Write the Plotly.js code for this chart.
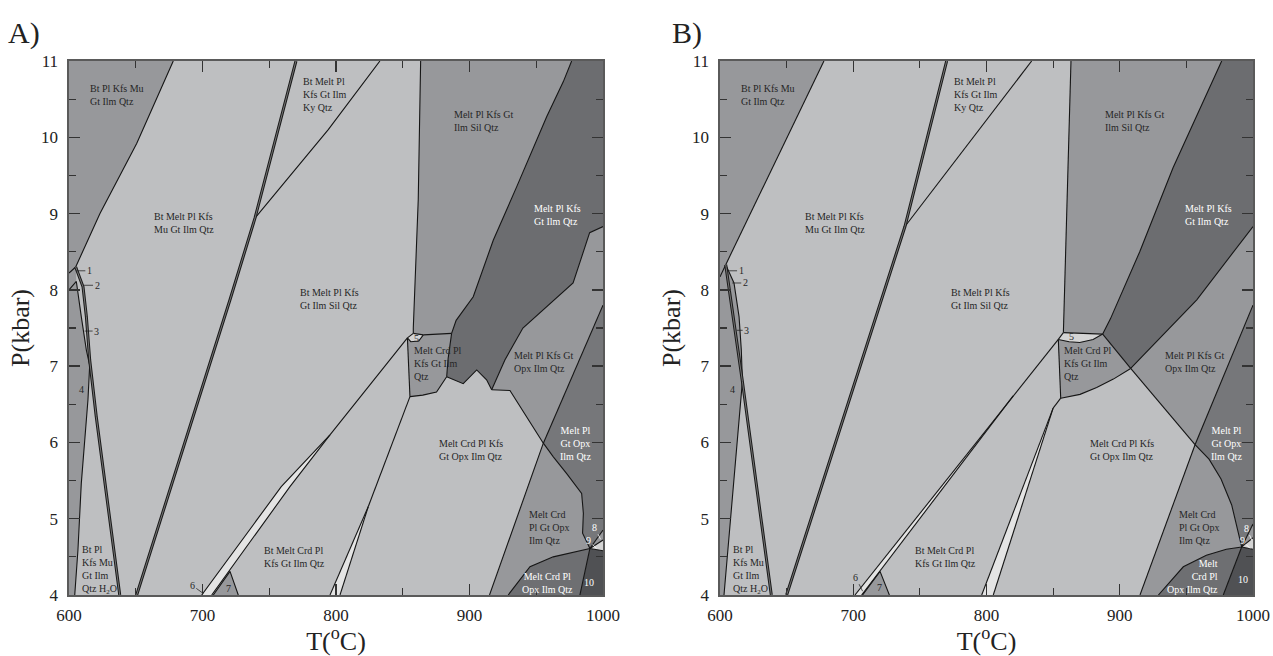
<!DOCTYPE html>
<html><head><meta charset="utf-8">
<script src="https://cdn.plot.ly/plotly-3.0.1.min.js"></script>
<style>html,body{margin:0;padding:0;background:#fff}#chart{width:1273px;height:656px}</style>
</head><body><div id="chart"></div>
<script>
// ---------- Panel A boundaries: [T (°C), P (kbar)] ----------
const aMuOut   = [[678.1,11],[650.7,9.92],[623.2,9.0],[605,8.3]];
const aMuEdge  = [[605,8.3],[600,8.22]];
const aThick1  = [[605,8.3],[610.5,8.04],[613,7.65],[615.5,7.08],[620.4,6.34],[638,4]];
const aR4Edge  = [[604.3,4],[606.7,4.59],[609.2,5.46],[614.2,6.56],[615.5,7.01],[613,7.21],[609.2,7.65],[605.5,8.11],[600,8.0]];
const aThick2  = [[650.7,4],[720.6,7.87],[739.3,8.94],[770,11]];
const aKy      = [[739.3,8.94],[794.2,10.1],[832.9,11]];
const aVert    = [[857.9,7.43],[857.9,7.5],[861.6,9.18],[863.4,11]];
const a5Top    = [[857.9,7.43],[865.4,7.41]];
const a5Bot    = [[853.5,7.37],[856,7.32],[862,7.33],[865.4,7.41]];
const a5Left   = [[853.5,7.37],[857.9,7.43]];
const aCrdTop  = [[865.4,7.41],[886.6,7.43]];
const aDarkLeft= [[886.6,7.43],[890,7.6],[902.8,7.91],[917.8,8.65],[935.3,9.35],[957.8,10.27],[970.3,10.73],[976.5,11]];
const aCrdRight= [[886.6,7.43],[884,7.1],[882.9,6.86]];
const aSpikes  = [[882.9,6.86],[895.3,6.77],[905.4,6.95],[912.8,6.82],[916.6,6.69]];
const aC1      = [[916.6,6.69],[926.5,7.08],[940,7.5],[964,7.87],[977.6,8.09],[990,8.75],[1000,8.83]];
const aL1b     = [[916.6,6.69],[930.3,6.68],[955.3,5.99]];
const aL1c     = [[955.3,5.99],[962.8,5.81],[972.8,5.59],[984,5.33],[985.3,5.07],[984.7,4.81],[990.2,4.61]];
const aL2a     = [[915,4],[955.3,5.99]];
const aL2b     = [[955.3,5.99],[1000,7.8]];
const aCrdBot  = [[855.4,6.6],[865,6.62],[875.3,6.66],[882.9,6.86]];
const aCrdLeft = [[853.5,7.37],[855.4,6.6]];
const aW1L     = [[699.4,4],[759,5.42],[795.5,6.1],[853.5,7.37]];
const aW1R     = [[706.9,4],[765.5,5.42],[795.5,6.1]];
const aW2L     = [[795.5,4],[824.2,5.16]];
const aW2R     = [[803,4],[824.2,5.16]];
const aW2Top   = [[824.2,5.16],[855.4,6.6]];
const aC2      = [[929,4],[945.3,4.37],[962.7,4.5],[980.3,4.57],[990.2,4.61]];
const aL4      = [[982.7,4],[990.2,4.61]];
const aTip8    = [[990.2,4.61],[1000,4.85]];
const aTip9    = [[990.2,4.61],[1000,4.72]];
const aTip10   = [[990.2,4.61],[1000,4.58]];
const aR7      = [[708.1,4],[720.6,4.31],[726.8,4]];

// ---------- Panel B boundaries ----------
const bMuOut   = [[678,11],[604.3,8.33]];
const bMuEdge  = [[604.3,8.33],[600,8.17]];
const bThick1  = [[604.3,8.33],[616.8,6.8],[638.5,4]];
const bR4Edge  = [[603,4],[616.8,6.8],[616,7.21],[614.3,7.65],[610.5,8.09],[604.3,8.33]];
const bThick2  = [[650,4],[738.8,8.83],[770.1,11]];
const bKy      = [[738.8,8.83],[833.9,11]];
const bVert    = [[857.7,7.44],[861.2,9.6],[863.4,11]];
const b5Top    = [[857.7,7.44],[887.2,7.42]];
const b5Bot    = [[853.9,7.35],[862,7.32],[870,7.31],[880,7.35],[887.2,7.42]];
const b5Left   = [[853.9,7.35],[857.7,7.44]];
const bDarkLeft= [[887.2,7.42],[893,7.62],[915,8.5],[940,9.6],[976.5,11]];
const bC1      = [[908.2,6.97],[937.7,7.5],[957.8,7.87],[1000,8.83]];
const bL1a     = [[887.2,7.42],[908.2,6.97]];
const bL1b     = [[908.2,6.97],[956.5,5.97]];
const bL1c     = [[956.5,5.97],[967,5.78],[976,5.52],[984,5.18],[991.5,4.63]];
const bL2a     = [[915.2,4],[956.5,5.97]];
const bL2b     = [[956.5,5.97],[1000,7.8]];
const bCrdBot  = [[855.7,6.58],[870.2,6.63],[882.7,6.72],[895.2,6.83],[908.2,6.97]];
const bCrdLeft = [[853.9,7.35],[855.7,6.58]];
const bW1L     = [[701.3,4],[820,6.61],[853.9,7.35]];
const bW1R     = [[706.3,4],[820,6.61]];
const bW2L     = [[796.4,4],[850,6.45]];
const bW2R     = [[805.1,4],[850,6.45]];
const bW2Top   = [[850,6.45],[855.7,6.58]];
const bC2      = [[929,4],[947.7,4.37],[965,4.52],[980,4.6],[991.5,4.63]];
const bL4      = [[977.7,4],[991.5,4.63]];
const bTip8    = [[991.5,4.63],[1000,4.93]];
const bTip9    = [[991.5,4.63],[1000,4.75]];
const bTip10   = [[991.5,4.63],[1000,4.6]];
const bR7      = [[707,4],[720.1,4.31],[727.1,4]];

// ---------- field labels: [text, T, P, anchor, colour] ----------
const aLabels = [
 ['Bt Pl Kfs Mu<br>Gt Ilm Qtz',614.2,10.56,'left','d'],
 ['Bt Melt Pl Kfs<br>Mu Gt Ilm Qtz',661.9,8.88,'left','d'],
 ['Bt Melt Pl<br>Kfs Gt Ilm<br>Ky Qtz',773.8,10.56,'left','d'],
 ['Melt Pl Kfs Gt<br>Ilm Sil Qtz',887.1,10.21,'left','d'],
 ['Melt Pl Kfs<br>Gt Ilm Qtz',947.1,8.98,'left','w'],
 ['Bt Melt Pl Kfs<br>Gt Ilm Sil Qtz',771.3,7.88,'left','d'],
 ['Melt Crd Pl<br>Kfs Gt Ilm<br>Qtz',856.7,7.03,'left','d'],
 ['Melt Pl Kfs Gt<br>Opx Ilm Qtz',931.6,7.05,'left','d'],
 ['Melt Crd Pl Kfs<br>Gt Opx Ilm Qtz',875.4,5.9,'left','d'],
 ['Melt Pl<br>Gt Opx<br>Ilm Qtz',979.7,5.98,'center','w'],
 ['Melt Crd<br>Pl Gt Opx<br>Ilm Qtz',942.8,4.89,'left','d'],
 ['Melt Crd Pl<br>Opx Ilm Qtz',958.4,4.16,'center','w'],
 ['10',989.7,4.16,'center','w'],
 ['Bt Melt Crd Pl<br>Kfs Gt Ilm Qtz',744.3,4.5,'left','d'],
 ['Bt Pl<br>Kfs Mu<br>Gt Ilm<br>Qtz H<sub>2</sub>O',608.2,4.33,'left','d'],
 ['4',609.2,6.69,'center','d'],
 ['5',860.4,7.36,'center','d'],
 ['7',719.3,4.09,'center','d']
];
const bLabels = [
 ['Bt Pl Kfs Mu<br>Gt Ilm Qtz',614.5,10.55,'left','d'],
 ['Bt Melt Pl Kfs<br>Mu Gt Ilm Qtz',662.1,8.88,'left','d'],
 ['Bt Melt Pl<br>Kfs Gt Ilm<br>Ky Qtz',773.9,10.56,'left','d'],
 ['Melt Pl Kfs Gt<br>Ilm Sil Qtz',887.7,10.21,'left','d'],
 ['Melt Pl Kfs<br>Gt Ilm Qtz',947.7,8.98,'left','w'],
 ['Bt Melt Pl Kfs<br>Gt Ilm Sil Qtz',772.1,7.88,'left','d'],
 ['Melt Crd Pl<br>Kfs Gt Ilm<br>Qtz',856.4,7.03,'left','d'],
 ['Melt Pl Kfs Gt<br>Opx Ilm Qtz',932.2,7.05,'left','d'],
 ['Melt Crd Pl Kfs<br>Gt Opx Ilm Qtz',876.4,5.9,'left','d'],
 ['Melt Pl<br>Gt Opx<br>Ilm Qtz',980.3,5.98,'center','w'],
 ['Melt Crd<br>Pl Gt Opx<br>Ilm Qtz',943.2,4.89,'left','d'],
 ['Melt<br>Crd Pl<br>Opx Ilm Qtz',975.3,4.24,'right','w'],
 ['10',992.7,4.2,'center','w'],
 ['Bt Melt Crd Pl<br>Kfs Gt Ilm Qtz',744.6,4.5,'left','d'],
 ['Bt Pl<br>Kfs Mu<br>Gt Ilm<br>Qtz H<sub>2</sub>O',608,4.33,'left','d'],
 ['4',609.2,6.69,'center','d'],
 ['5',863.9,7.39,'center','d'],
 ['7',719.6,4.1,'center','d']
];
// numbered small fields with leader lines: [text, T, P, dx px, dy px, colour]
const aLeaders = [['1',605.5,8.25,13,0,'d'],['2',610.5,8.06,14,0,'d'],['3',611.7,7.46,12,0,'d'],['6',700.6,4.02,-11,-8,'d'],['8',998.2,4.73,-6,-12,'w'],['9',995.2,4.61,-8,-8,'w']];
const bLeaders = [['1',606.8,8.25,12,0,'d'],['2',609.2,8.09,13,0,'d'],['3',612.5,7.47,10,0,'d'],['6',707,4.05,-7,-14,'d'],['8',999,4.72,-5,-12,'w'],['9',997.8,4.61,-8,-8,'w']];

// ---------- styling ----------
const MID='#97989b', DARK='#6c6d70', DARK2='#76777a', DARK3='#6e6f72', DARKEST='#505154', WHITE='#e4e4e4', PALE='#d4d4d4', LIGHT='#bebfc1';
const FONT='Liberation Serif';
const rev = a => a.slice().reverse();

function fillTrace(pts, color, ax){
  return {type:'scatter', mode:'lines', x:pts.map(p=>p[0]), y:pts.map(p=>p[1]), fill:'toself', fillcolor:color,
    line:{width:0,color:color}, hoverinfo:'skip', showlegend:false, xaxis:ax[0], yaxis:ax[1]};
}
function lineTrace(pts, w, ax, col){
  return {type:'scatter', mode:'lines', x:pts.map(p=>p[0]), y:pts.map(p=>p[1]),
    line:{width:w,color:col||'#151515'}, hoverinfo:'skip', showlegend:false, xaxis:ax[0], yaxis:ax[1]};
}

const traces = [];
function panel(ax, D){
  const n = D.r4Edge.length;
  const fills = [
    [[[600,11], ...D.muOut, D.muEdge[1]], MID],
    [[[600,4], ...D.r4Edge, D.muEdge[1]], MID],
    [[D.r4Edge[n-2], D.r4Edge[n-1], D.muEdge[1], D.muEdge[0]], MID],
    [[...rev(D.vert), ...D.t5, ...D.crdTop, ...D.darkLeft], MID],
    [[...D.darkLeft, [1000,11], ...rev(D.c1), ...rev(D.spikes), ...rev(D.crdRight)], DARK],
    [[...D.l5, ...D.t5, ...rev(D.b5)], PALE],
    [[...D.b5, ...D.crdTop, ...D.crdRight, ...rev(D.crdBot)], MID],
    [[...D.c1, ...rev(D.l2b), ...rev(D.l1b)], MID],
    [[...D.l2b, ...rev(D.tip8), ...rev(D.l1c)], DARK2],
    [[...D.l2a, ...D.l1c, ...rev(D.c2)], MID],
    [[...D.c2, ...rev(D.l4)], DARK3],
    [[...D.l4, ...D.tip10, [1000,4]], DARKEST],
    [[...D.tip8, ...rev(D.tip9)], MID],
    [[...D.tip9, ...rev(D.tip10)], PALE],
    [[...D.w1l.slice(0, D.w1l.length-1), ...rev(D.w1r)], WHITE],
    [[...D.w2l, ...rev(D.w2r)], WHITE],
    [D.r7, MID]
  ];
  fills.forEach(f => traces.push(fillTrace(f[0], f[1], ax)));
  D.thin.forEach(l => traces.push(lineTrace(l, 1.1, ax)));
  D.thick.forEach(l => { traces.push(lineTrace(l, 3, ax, '#1a1a1a')); traces.push(lineTrace(l, 0.8, ax, '#8a8a8a')); });
}

panel(['x','y'], {muOut:aMuOut, muEdge:aMuEdge, r4Edge:aR4Edge, vert:aVert, t5:a5Top, b5:a5Bot, l5:a5Left,
  crdTop:aCrdTop, darkLeft:aDarkLeft, crdRight:aCrdRight, spikes:aSpikes, c1:aC1, l1b:aL1b, l1c:aL1c,
  l2a:aL2a, l2b:aL2b, crdBot:aCrdBot, c2:aC2, l4:aL4, tip8:aTip8, tip9:aTip9, tip10:aTip10,
  w1l:aW1L, w1r:aW1R, w2l:aW2L, w2r:aW2R, r7:aR7,
  thin:[aMuOut,aMuEdge,aR4Edge,aKy,aVert,a5Top,a5Bot,a5Left,aCrdTop,aDarkLeft,aCrdRight,aSpikes,aC1,aL1b,aL1c,aL2a,aL2b,aCrdBot,aCrdLeft,aW1L,aW1R,aW2L,aW2R,aW2Top,aC2,aL4,aTip8,aTip9,aTip10,aR7],
  thick:[aThick1,aThick2]});

panel(['x2','y2'], {muOut:bMuOut, muEdge:bMuEdge, r4Edge:bR4Edge, vert:bVert, t5:b5Top, b5:b5Bot, l5:b5Left,
  crdTop:[b5Top[1]], darkLeft:bDarkLeft, crdRight:[bL1a[0]], spikes:bL1a, c1:bC1, l1b:bL1b, l1c:bL1c,
  l2a:bL2a, l2b:bL2b, crdBot:bCrdBot, c2:bC2, l4:bL4, tip8:bTip8, tip9:bTip9, tip10:bTip10,
  w1l:bW1L, w1r:bW1R, w2l:bW2L, w2r:bW2R, r7:bR7,
  thin:[bMuOut,bMuEdge,bR4Edge,bKy,bVert,b5Top,b5Bot,b5Left,bDarkLeft,bC1,bL1a,bL1b,bL1c,bL2a,bL2b,bCrdBot,bCrdLeft,bW1L,bW1R,bW2L,bW2R,bW2Top,bC2,bL4,bTip8,bTip9,bTip10,bR7],
  thick:[bThick1,bThick2]});

const annotations = [];
function addLabels(list, xr, yr){
  list.forEach(l => annotations.push({xref:xr, yref:yr, x:l[1], y:l[2], text:l[0], showarrow:false,
    xanchor:l[3], yanchor:'middle', align:l[3]==='right'?'right':(l[3]==='center'?'center':'left'),
    font:{family:FONT, size:10, color:l[4]==='w'?'#ffffff':'#262626'}}));
}
function addLeaders(list, xr, yr){
  list.forEach(l => annotations.push({xref:xr, yref:yr, x:l[1], y:l[2], text:l[0], showarrow:true,
    arrowhead:0, arrowwidth:0.8, arrowcolor:l[5]==='w'?'#ffffff':'#262626', ax:l[3], ay:l[4], standoff:0,
    font:{family:FONT, size:10, color:l[5]==='w'?'#ffffff':'#262626'}}));
}
addLabels(aLabels,'x','y'); addLabels(bLabels,'x2','y2');
addLeaders(aLeaders,'x','y'); addLeaders(bLeaders,'x2','y2');
annotations.push({xref:'paper', yref:'paper', x:6/1273, y:1-14/656, xanchor:'left', yanchor:'top', text:'A)', showarrow:false, font:{family:FONT, size:30, color:'#222'}});
annotations.push({xref:'paper', yref:'paper', x:670/1273, y:1-14/656, xanchor:'left', yanchor:'top', text:'B)', showarrow:false, font:{family:FONT, size:30, color:'#222'}});

function xAx(dom, anchor){
  return {domain:dom, anchor:anchor, range:[600,1000], tick0:600, dtick:100, ticks:'inside', ticklen:11, tickwidth:1.3, tickcolor:'#333',
    minor:{dtick:50, ticks:'inside', ticklen:7, tickwidth:1.1, tickcolor:'#333'},
    showline:true, linecolor:'#5a5a5a', linewidth:1.6, mirror:'allticks', showgrid:false, zeroline:false,
    tickfont:{family:FONT, size:17, color:'#222'}, ticklabelstandoff:4,
    title:{text:'T(<sup>o</sup>C)', font:{family:FONT, size:26, color:'#222'}, standoff:2}, fixedrange:true};
}
function yAx(dom, anchor){
  return {domain:dom, anchor:anchor, range:[4,11], tick0:4, dtick:1, ticks:'inside', ticklen:11, tickwidth:1.3, tickcolor:'#333',
    minor:{dtick:0.5, ticks:'inside', ticklen:7, tickwidth:1.1, tickcolor:'#333'},
    showline:true, linecolor:'#5a5a5a', linewidth:1.6, mirror:'allticks', showgrid:false, zeroline:false,
    tickfont:{family:FONT, size:17, color:'#222'}, ticklabelstandoff:6,
    title:{text:'P(kbar)', font:{family:FONT, size:26, color:'#222'}, standoff:4}, fixedrange:true};
}
const yd=[61/656, 595/656];
const layout = {
  width:1273, height:656, margin:{l:0,r:0,t:0,b:0}, paper_bgcolor:'#ffffff', plot_bgcolor:LIGHT, showlegend:false,
  xaxis:xAx([69/1273, 603/1273],'y'), yaxis:yAx(yd,'x'),
  xaxis2:xAx([720/1273, 1253/1273],'y2'), yaxis2:yAx(yd,'x2'),
  annotations:annotations
};
Plotly.newPlot('chart', traces, layout, {staticPlot:true, displayModeBar:false});
</script></body></html>
